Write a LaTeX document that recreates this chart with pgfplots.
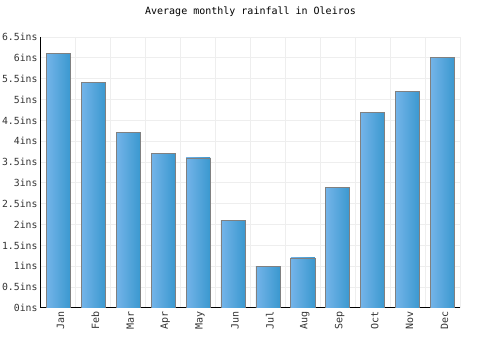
\documentclass[border=0pt]{standalone}
\usepackage{pgfplots}
\pgfplotsset{compat=1.18}
\usepackage{fontspec}
\setmainfont{DejaVu Sans Mono}
\definecolor{barL}{HTML}{74B4E9}
\definecolor{barR}{HTML}{3A98CF}
\definecolor{gridc}{HTML}{EEEEEE}
\definecolor{txt}{HTML}{333333}
\pgfplotsset{mybar/.style={ybar, bar width=0.69, bar shift=0pt, draw=gray, line width=0.8pt, left color=barL, right color=barR, mark=none}}
\begin{document}
\begin{tikzpicture}
\begin{axis}[
  at={(0,0)}, anchor=south west,
  scale only axis, width=419pt, height=271pt,
  xmin=-0.5, xmax=11.5, ymin=0, ymax=6.5,
  axis x line*=bottom, axis y line*=left,
  axis line style={black, line width=1pt, -},
  xtick={0,...,11},
  xticklabels={Jan,Feb,Mar,Apr,May,Jun,Jul,Aug,Sep,Oct,Nov,Dec},
  x tick label style={rotate=90, anchor=east, yshift=-2pt, font=\fontsize{10}{12}\selectfont, text=txt},
  minor xtick={-0.5,0.5,...,11.5},
  ytick={0,0.5,...,6.5},
  yticklabel={\pgfmathprintnumber{\tick}ins},
  y tick label style={xshift=0pt, font=\fontsize{9.8}{12}\selectfont, text=txt},
  /pgf/number format/assume math mode=true,
  major tick length=0pt, minor tick length=0pt,
  xmajorgrids=false, xminorgrids=true, ymajorgrids=true,
  grid style={gridc, line width=1pt},
  minor grid style={gridc, line width=1pt},
  title={Average monthly rainfall in Oleiros},
  title style={at={(0.5,1)}, anchor=center, yshift=19pt, font=\fontsize{10}{12}\selectfont},
]
\addplot[mybar] coordinates {(0,6.1)};
\addplot[mybar] coordinates {(1,5.4)};
\addplot[mybar] coordinates {(2,4.2)};
\addplot[mybar] coordinates {(3,3.7)};
\addplot[mybar] coordinates {(4,3.6)};
\addplot[mybar] coordinates {(5,2.1)};
\addplot[mybar] coordinates {(6,1.0)};
\addplot[mybar] coordinates {(7,1.2)};
\addplot[mybar] coordinates {(8,2.9)};
\addplot[mybar] coordinates {(9,4.7)};
\addplot[mybar] coordinates {(10,5.2)};
\addplot[mybar] coordinates {(11,6.0)};
\end{axis}
\pgfresetboundingbox
\path (-41pt,-42pt) rectangle (459pt,308pt);
\end{tikzpicture}
\end{document}
